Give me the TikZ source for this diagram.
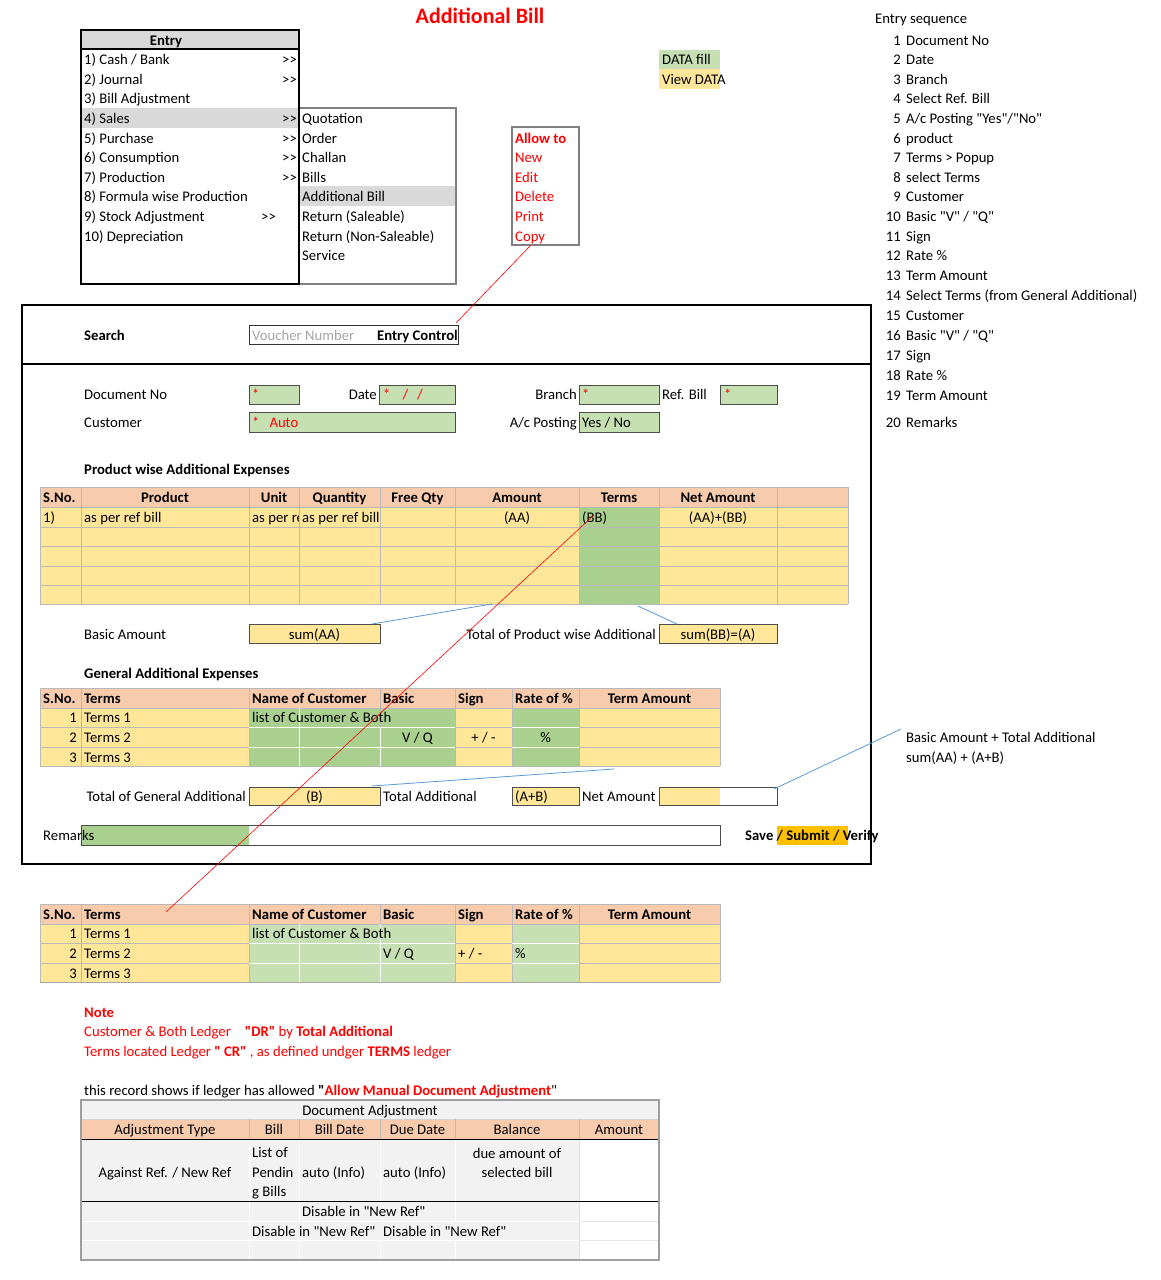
\documentclass[tikz,border=0pt]{standalone}
\usepackage{fontspec}
\setmainfont{Carlito}[Ligatures=TeXOff]
\definecolor{salm}{HTML}{F8CBAD}
\definecolor{yel}{HTML}{FFE699}
\definecolor{grn}{HTML}{C6E0B4}
\definecolor{dgrn}{HTML}{A9D08E}
\definecolor{gry}{HTML}{D9D9D9}
\definecolor{lgry}{HTML}{F2F2F2}
\definecolor{orng}{HTML}{FFC000}
\definecolor{blueln}{HTML}{5B9BD5}
\definecolor{redt}{HTML}{FF0000}
\newcommand\fs{\fontsize{14.7}{17}\selectfont}
\begin{document}
\begin{tikzpicture}[x=1pt,y=-1pt,
 lbl/.style={inner sep=0pt, anchor=base west, yshift=-5pt, font=\fs},
 ctr/.style={inner sep=0pt, anchor=base, yshift=-5pt, font=\fs},
 rgt/.style={inner sep=0pt, anchor=base east, yshift=-5pt, font=\fs},
 bld/.style={font=\fs\bfseries},
 rd/.style={text=redt},
 gridl/.style={draw=gray!55, line width=0.7pt},
 wgrid/.style={draw=white, line width=0.7pt},
 boxb/.style={draw=gray!60!black, line width=0.9pt},
 bluel/.style={draw=blueln, line width=0.8pt},
 redl/.style={draw=redt, line width=0.6pt}]
\useasboundingbox (0,0) rectangle (1160,1280);
\fill[white] (0,0) rectangle (1160,1280);

% ---------- title
\node[inner sep=0pt, anchor=base, font=\fontsize{22}{26}\selectfont\bfseries, text=redt] (title) at (480,23) {Additional Bill};

% ---------- entry menu
\fill[gry] (81,30) rectangle (299,49);
\fill[gry] (81,108) rectangle (299,128);
\fill[gry] (299,186) rectangle (456,206);
\draw[draw=gray, line width=1.2pt] (299,108) rectangle (456,284);
\draw[line width=2pt] (81,30) rectangle (299,284);
\draw[line width=1.2pt] (81,49) -- (299,49);
\node[ctr,bld] (mEntry) at (166,40) {Entry};
\node[lbl] (m1) at (84,59) {1) Cash / Bank};
\node[lbl] (m2) at (84,79) {2) Journal};
\node[lbl] (m3) at (84,98) {3) Bill Adjustment};
\node[lbl] (m4) at (84,118) {4) Sales};
\node[lbl] (m5) at (84,138) {5) Purchase};
\node[lbl] (m6) at (84,157) {6) Consumption};
\node[lbl] (m7) at (84,177) {7) Production};
\node[lbl] (m8) at (84,196) {8) Formula wise Production};
\node[lbl] (m9) at (84,216) {9) Stock Adjustment};
\node[lbl] (m10) at (84,236) {10) Depreciation};
\node[lbl] (g1) at (282,59) {>{}>};
\node[lbl] (g2) at (282,79) {>{}>};
\node[lbl] (g4) at (282,118) {>{}>};
\node[lbl] (g5) at (282,138) {>{}>};
\node[lbl] (g6) at (282,157) {>{}>};
\node[lbl] (g7) at (282,177) {>{}>};
\node[lbl] (g9) at (261,216) {>{}>};
\node[lbl] (s1) at (302,118) {Quotation};
\node[lbl] (s2) at (302,138) {Order};
\node[lbl] (s3) at (302,157) {Challan};
\node[lbl] (s4) at (302,177) {Bills};
\node[lbl] (s5) at (302,196) {Additional Bill};
\node[lbl] (s6) at (302,216) {Return (Saleable)};
\node[lbl] (s7) at (302,236) {Return (Non-Saleable)};
\node[lbl] (s8) at (302,255) {Service};

% ---------- allow to
\draw[draw=gray, line width=1.2pt] (512,127) rectangle (579,245);
\node[lbl,bld,rd] (a0) at (515,138) {Allow to};
\node[lbl,rd] (a1) at (515,157) {New};
\node[lbl,rd] (a2) at (515,177) {Edit};
\node[lbl,rd] (a3) at (515,196) {Delete};
\node[lbl,rd] (a4) at (515,216) {Print};
\node[lbl,rd] (a5) at (515,236) {Copy};
\coordinate (allowB) at (531,245);

% ---------- legend
\fill[grn] (659,50) rectangle (720,69);
\fill[yel] (659,69) rectangle (720,89);
\node[lbl] (leg1) at (662,59) {DATA fill};
\node[lbl] (leg2) at (662,79) {View DATA};

% ---------- entry sequence
\node[lbl] (es) at (875,18) {Entry sequence};
\foreach \n/\yy/\tx in {1/40/Document No, 2/59/Date, 3/79/Branch, 4/98/Select Ref. Bill,
  5/118/{A/c Posting "Yes"/"No"}, 6/138/product, 7/157/{Terms > Popup}, 8/177/select Terms,
  9/196/Customer, 10/216/{Basic "V" / "Q"}, 11/236/Sign, 12/255/Rate \%, 13/275/Term Amount,
  14/295/{Select Terms (from General Additional)}, 15/315/Customer, 16/335/{Basic "V" / "Q"},
  17/355/Sign, 18/375/Rate \%, 19/395/Term Amount, 20/422/Remarks}{
  \node[rgt] (esn\n) at (901,\yy) {\n};
  \node[lbl] (est\n) at (906,\yy) {\tx};
}

% ---------- main form
\draw[line width=1.8pt] (22,305) rectangle (871,864);
\draw[line width=1.3pt] (22,364) -- (871,364);
\node[lbl,bld] (search) at (84,335) {Search};
\draw[draw=gray!40!black, line width=0.9pt] (249,325) rectangle (458,344);
\coordinate (ecTR) at (456,323);
\node[lbl,text=gray!70] (vno) at (252,335) {Voucher Number};
\node[rgt,bld] (ectl) at (458,335) {Entry Control};

\fill[grn] (249,385) rectangle (299,404);
\fill[grn] (379,385) rectangle (455,404);
\fill[grn] (579,385) rectangle (659,404);
\fill[grn] (720,385) rectangle (777,404);
\fill[grn] (249,412) rectangle (455,432);
\fill[grn] (579,412) rectangle (659,432);
\draw[boxb] (249,385) rectangle (299,404);
\draw[boxb] (379,385) rectangle (455,404);
\draw[boxb] (579,385) rectangle (659,404);
\draw[boxb] (720,385) rectangle (777,404);
\draw[boxb] (249,412) rectangle (455,432);
\draw[boxb] (579,412) rectangle (659,432);
\node[lbl] (docno) at (84,394) {Document No};
\node[lbl,rd] (st1) at (252,394) {*};
\node[rgt] (date) at (377,394) {Date};
\node[lbl,rd] (st2) at (383,394) {*\hspace{12pt}/\hspace{9pt}/};
\node[rgt] (branch) at (577,394) {Branch};
\node[lbl,rd] (st3) at (582,394) {*};
\node[lbl] (refb) at (662,394) {Ref. Bill};
\node[lbl,rd] (st4) at (724,394) {*};
\node[lbl] (cust) at (84,422) {Customer};
\node[lbl,rd] (st5) at (252,422) {*\hspace{10pt}Auto};
\node[rgt] (acp) at (577,422) {A/c Posting};
\node[lbl] (yesno) at (582,422) {Yes / No};

% ---------- product table
\node[lbl,bld] (pwae) at (84,469) {Product wise Additional Expenses};
\fill[salm] (40,487) rectangle (848,507);
\fill[yel] (40,507) rectangle (848,604);
\fill[dgrn] (579,507) rectangle (659,604);
\foreach \yy in {487,507,527,546,566,585,604} \draw[gridl] (40,\yy) -- (848,\yy);
\foreach \xx in {40,81,249,299,380,455,579,659,777,848} \draw[gridl] (\xx,487) -- (\xx,604);
\node[lbl,bld] (ph1) at (43,497) {S.No.};
\node[ctr,bld] (ph2) at (165,497) {Product};
\node[ctr,bld] (ph3) at (274,497) {Unit};
\node[ctr,bld] (ph4) at (339.5,497) {Quantity};
\node[ctr,bld] (ph5) at (417.5,497) {Free Qty};
\node[ctr,bld] (ph6) at (517,497) {Amount};
\node[ctr,bld] (ph7) at (619,497) {Terms};
\node[ctr,bld] (ph8) at (718,497) {Net Amount};
\node[lbl] (pr1) at (43,517) {1)};
\node[lbl] (pr2) at (84,517) {as per ref bill};
\begin{scope}
\clip (249,507) rectangle (298.5,527);
\node[lbl] (pr3) at (252,517) {as per re};
\end{scope}
\node[lbl] (pr4) at (302,517) {as per ref bill};
\node[ctr] (pr5) at (517,517) {(AA)};
\node[lbl] (pr6) at (582,517) {(BB)};
\node[ctr] (pr7) at (718,517) {(AA)+(BB)};
\coordinate (bbA) at (594,515);

\fill[yel] (249,624) rectangle (380,643);
\fill[yel] (659,624) rectangle (777,643);
\draw[boxb] (249,624) rectangle (380,643);
\draw[boxb] (659,624) rectangle (777,643);
\node[lbl] (bam) at (84,634) {Basic Amount};
\node[ctr] (sumaa) at (314.5,634) {sum(AA)};
\node[rgt] (tpwa) at (656,634) {Total of Product wise Additional};
\node[ctr] (sumbb) at (718,634) {sum(BB)=(A)};
\coordinate (b1a) at (372,624);
\coordinate (b1b) at (492,604);
\coordinate (b2a) at (677,624);
\coordinate (b2b) at (638,606);
\draw[bluel] (b1a) -- (b1b);
\draw[bluel] (b2a) -- (b2b);

% ---------- general additional table
\node[lbl,bld] (gae) at (84,673) {General Additional Expenses};
\fill[salm] (40,688) rectangle (720,708);
\fill[yel] (40,708) rectangle (720,766);
\fill[dgrn] (249,708) rectangle (455,766);
\fill[dgrn] (512,708) rectangle (579,766);
\foreach \yy in {688,708,727,747,766} \draw[gridl] (40,\yy) -- (720,\yy);
\foreach \xx in {40,81,249,380,455,512,579,720} \draw[gridl] (\xx,688) -- (\xx,766);
\foreach \yy in {727,747} {\draw[wgrid] (249,\yy) -- (455,\yy); \draw[wgrid] (512,\yy) -- (579,\yy);}
\draw[wgrid] (299,708) -- (299,766);
\draw[wgrid] (380,727) -- (380,766);
\draw[gridl] (40,766) -- (720,766);
\node[lbl,bld] (gh1) at (43,698) {S.No.};
\node[lbl,bld] (gh2) at (84,698) {Terms};
\node[lbl,bld] (gh3) at (252,698) {Name of Customer};
\node[lbl,bld] (gh4) at (383,698) {Basic};
\node[lbl,bld] (gh5) at (458,698) {Sign};
\node[lbl,bld] (gh6) at (515,698) {Rate of \%};
\node[ctr,bld] (gh7) at (649.5,698) {Term Amount};
\node[rgt] (gn1) at (77,717) {1};
\node[rgt] (gn2) at (77,737) {2};
\node[rgt] (gn3) at (77,757) {3};
\node[lbl] (gt1) at (84,717) {Terms 1};
\node[lbl] (gt2) at (84,737) {Terms 2};
\node[lbl] (gt3) at (84,757) {Terms 3};
\node[lbl] (glc) at (252,717) {list of Customer \& Both};
\node[ctr] (gvq) at (417.5,737) {V / Q};
\node[ctr] (gsg) at (483.5,737) {+ / -};
\node[ctr] (gpc) at (545.5,737) {\%};

\fill[yel] (249,787) rectangle (380,805);
\fill[yel] (512,787) rectangle (579,805);
\fill[yel] (659,787) rectangle (720,805);
\draw[boxb] (249,787) rectangle (380,805);
\draw[boxb] (512,787) rectangle (579,805);
\draw[boxb] (659,787) rectangle (777,805);
\node[rgt] (tga) at (246,796) {Total of General Additional};
\node[ctr] (bb) at (314.5,796) {(B)};
\node[lbl] (tad) at (383,796) {Total Additional};
\node[lbl] (apb) at (515,796) {(A+B)};
\node[lbl] (nam) at (582,796) {Net Amount};
\coordinate (b3a) at (372,786);
\coordinate (b3b) at (614,769);
\draw[bluel] (b3a) -- (b3b);
\coordinate (b4a) at (774,789);
\coordinate (b4b) at (901,729);
\draw[bluel] (b4a) -- (b4b);
\node[lbl] (batxt) at (906,737) {Basic Amount + Total Additional};
\node[lbl] (batxt2) at (906,757) {sum(AA) + (A+B)};

\fill[dgrn] (81,825) rectangle (249,845);
\draw[boxb] (81,825) rectangle (720,845);
\node[lbl] (rem) at (43,835) {Remarks};
\fill[orng] (777,826) rectangle (848,845);
\node[lbl,bld] (save) at (745,835) {Save / Submit / Verify};

% ---------- bottom table
\fill[salm] (40,904) rectangle (720,924);
\fill[yel] (40,924) rectangle (720,982);
\fill[grn] (249,924) rectangle (455,982);
\fill[grn] (512,924) rectangle (579,982);
\foreach \yy in {904,924,943,963,982} \draw[gridl] (40,\yy) -- (720,\yy);
\foreach \xx in {40,81,249,380,455,512,579,720} \draw[gridl] (\xx,904) -- (\xx,982);
\foreach \yy in {943,963} {\draw[wgrid] (249,\yy) -- (455,\yy); \draw[wgrid] (512,\yy) -- (579,\yy);}
\draw[wgrid] (299,924) -- (299,982);
\draw[wgrid] (380,924) -- (380,982);
\draw[draw=gray!70, line width=1pt] (40,982) -- (720,982);
\node[lbl,bld] (bh1) at (43,914) {S.No.};
\node[lbl,bld] (bh2) at (84,914) {Terms};
\node[lbl,bld] (bh3) at (252,914) {Name of Customer};
\node[lbl,bld] (bh4) at (383,914) {Basic};
\node[lbl,bld] (bh5) at (458,914) {Sign};
\node[lbl,bld] (bh6) at (515,914) {Rate of \%};
\node[ctr,bld] (bh7) at (649.5,914) {Term Amount};
\node[rgt] (bn1) at (77,933) {1};
\node[rgt] (bn2) at (77,953) {2};
\node[rgt] (bn3) at (77,973) {3};
\node[lbl] (bt1) at (84,933) {Terms 1};
\node[lbl] (bt2) at (84,953) {Terms 2};
\node[lbl] (bt3) at (84,973) {Terms 3};
\node[lbl] (blc) at (252,933) {list of Customer \& Both};
\node[lbl] (bvq) at (383,953) {V / Q};
\node[lbl] (bsg) at (458,953) {+ / -};
\node[lbl] (bpc) at (515,953) {\%};
\coordinate (btT) at (166,912);

% ---------- red connectors
\draw[redl] (allowB) -- (ecTR);
\draw[redl] (bbA) -- (btT);

% ---------- note
\node[lbl,bld,rd] (note) at (84,1012) {Note};
\node[lbl,rd] (note1) at (84,1031) {Customer \& Both Ledger\hspace{14pt}\textbf{"DR"} by \textbf{Total Additional}};
\node[lbl,rd] (note2) at (84,1051) {Terms located Ledger \textbf{" CR"} , as defined undger \textbf{TERMS} ledger};
\node[lbl] (rec) at (84,1090) {this record shows if ledger has allowed \textbf{"}\textcolor{redt}{\textbf{Allow Manual Document Adjustment}}"};

% ---------- document adjustment
\fill[lgry] (81,1100) rectangle (659,1119);
\fill[salm] (81,1119) rectangle (659,1139);
\fill[lgry] (81,1139) rectangle (579,1260);
\draw[draw=gray!35, line width=0.7pt] (81,1119) -- (659,1119);
\foreach \xx in {249,299,380,455,579} \draw[gridl] (\xx,1119) -- (\xx,1139);
\foreach \xx in {249,299,380,455,579} \draw[draw=white, line width=1pt] (\xx,1139) -- (\xx,1201);
\draw[draw=white, line width=1pt] (249,1201) -- (249,1260);
\draw[draw=white, line width=1pt] (299,1201) -- (299,1221);
\draw[draw=white, line width=1pt] (299,1240) -- (299,1260);
\draw[draw=white, line width=1pt] (380,1240) -- (380,1260);
\draw[draw=white, line width=1pt] (455,1201) -- (455,1221);
\draw[draw=white, line width=1pt] (455,1240) -- (455,1260);
\draw[draw=gray!25, line width=0.8pt] (579,1139) -- (579,1260);
\foreach \yy in {1221,1240} \draw[draw=white, line width=1pt] (81,\yy) -- (579,\yy);
\foreach \yy in {1221,1240} \draw[draw=gray!20, line width=0.8pt] (579,\yy) -- (659,\yy);
\draw[line width=1pt] (81,1139) -- (659,1139);
\draw[line width=1pt] (81,1201) -- (659,1201);
\draw[draw=gray!75, line width=1.3pt] (81,1100) rectangle (659,1260);
\node[ctr] (dat) at (370,1110) {Document Adjustment};
\node[ctr] (dh1) at (165,1129) {Adjustment Type};
\node[ctr] (dh2) at (274,1129) {Bill};
\node[ctr] (dh3) at (339.5,1129) {Bill Date};
\node[ctr] (dh4) at (417.5,1129) {Due Date};
\node[ctr] (dh5) at (517,1129) {Balance};
\node[ctr] (dh6) at (619,1129) {Amount};
\node[ctr] (dr1) at (165,1172) {Against Ref. / New Ref};
\node[lbl] (dr2a) at (252,1152) {List of};
\node[lbl] (dr2b) at (252,1172) {Pendin};
\node[lbl] (dr2c) at (252,1191) {g Bills};
\node[lbl] (dr3) at (302,1172) {auto (Info)};
\node[lbl] (dr4) at (383,1172) {auto (Info)};
\node[ctr] (dr5a) at (517,1153) {due amount of};
\node[ctr] (dr5b) at (517,1172) {selected bill};
\node[lbl] (dis1) at (302,1211) {Disable in "New Ref"};
\node[lbl] (dis2) at (252,1231) {Disable in "New Ref"};
\node[lbl] (dis3) at (383,1231) {Disable in "New Ref"};
\end{tikzpicture}
\end{document}
